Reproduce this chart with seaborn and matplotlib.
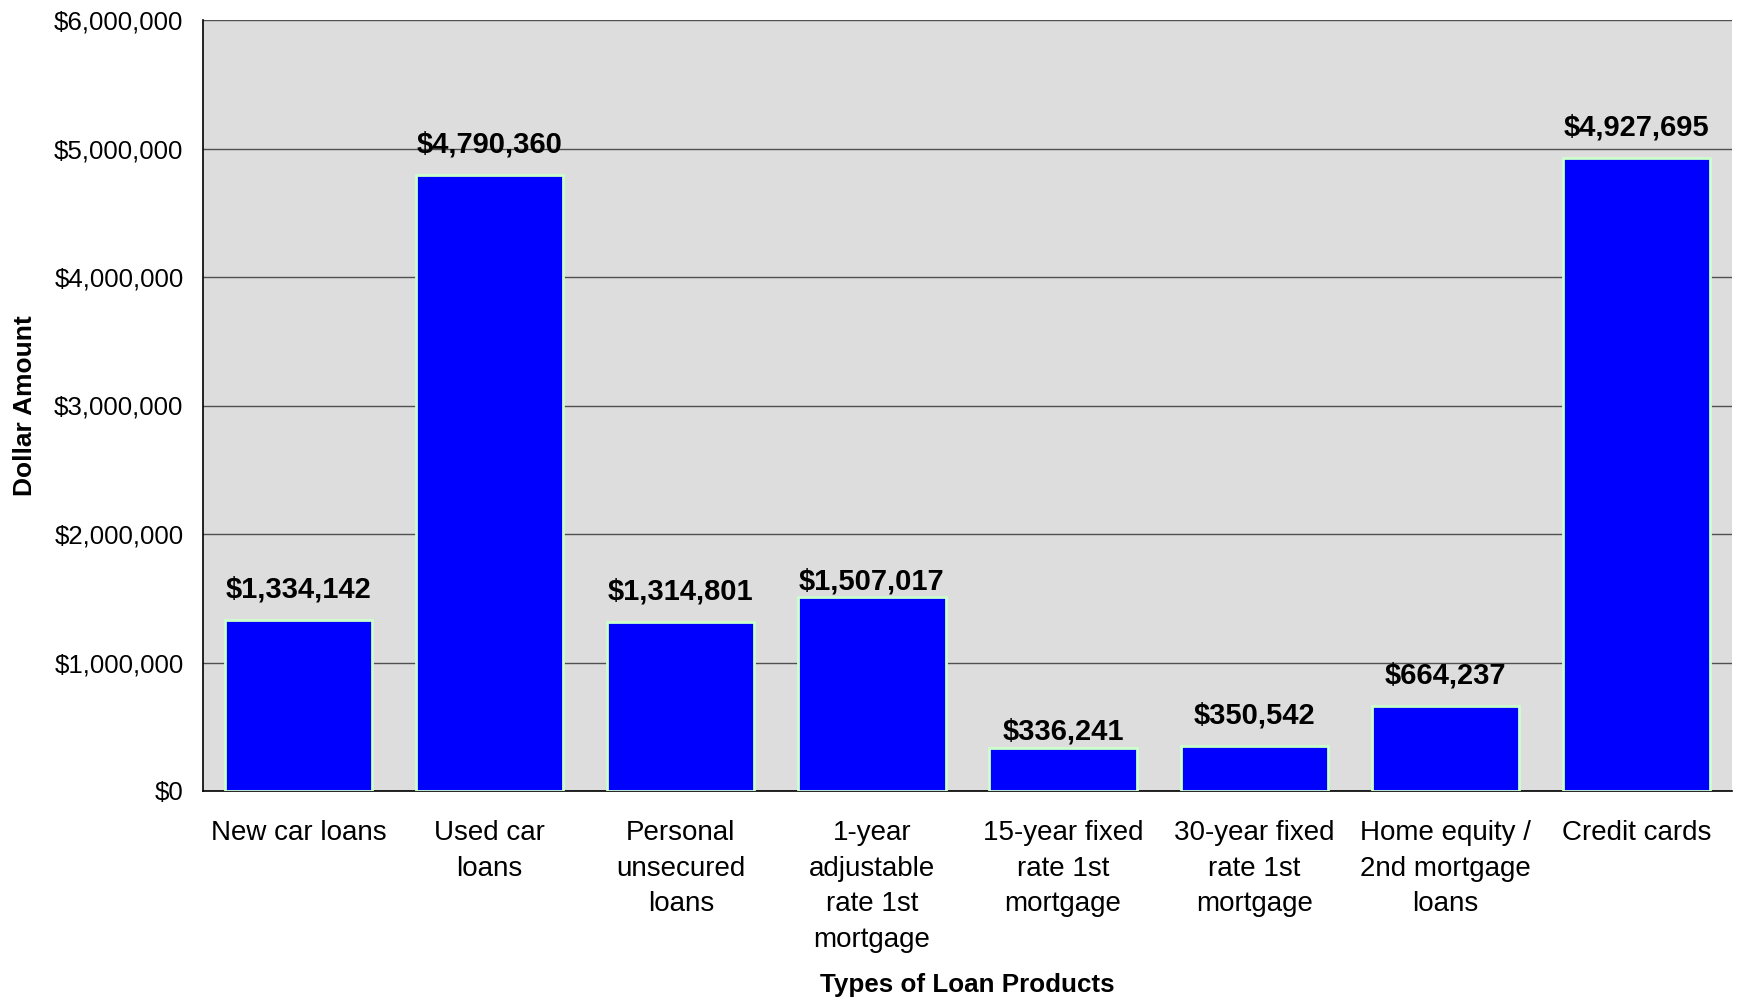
import matplotlib
matplotlib.use("Agg")
import matplotlib.pyplot as plt
import seaborn as sns
import pandas as pd
from matplotlib.ticker import FuncFormatter, MultipleLocator, FixedLocator

categories = ["New car loans", "Used car loans", "Personal unsecured loans",
              "1-year adjustable rate 1st mortgage", "15-year fixed rate 1st mortgage",
              "30-year fixed rate 1st mortgage", "Home equity / 2nd mortgage loans",
              "Credit cards"]
tick_labels = ["New car loans", "Used car\nloans", "Personal\nunsecured\nloans",
               "1-year\nadjustable\nrate 1st\nmortgage", "15-year fixed\nrate 1st\nmortgage",
               "30-year fixed\nrate 1st\nmortgage", "Home equity /\n2nd mortgage\nloans",
               "Credit cards"]
amounts = [1334142, 4790360, 1314801, 1507017, 336241, 350542, 664237, 4927695]

# label placement (points above bar top), layout only
label_offsets = [22, 22, 22, 11.5, 11.5, 22, 22, 22]

sns.set_style("white")
plt.rcParams['font.family'] = ['Liberation Sans', 'DejaVu Sans']
plt.rcParams['text.color'] = 'black'
plt.rcParams['axes.labelcolor'] = 'black'
plt.rcParams['xtick.color'] = 'black'
plt.rcParams['ytick.color'] = 'black'

df = pd.DataFrame({"cat": categories, "amt": amounts})

fig = plt.figure(figsize=(17.39, 10), dpi=100)
ax = fig.add_axes([203/1739, 209/1000, (1732-203)/1739, (791-20)/1000])
ax.set_facecolor('#dddddd')

sns.barplot(data=df, x="cat", y="amt", color="#0000ff", saturation=1, width=0.77,
            edgecolor="#ccffcc", linewidth=2, ax=ax, zorder=3)

ax.set_ylim(0, 6000000)
ax.set_xlim(-0.5, len(categories) - 0.5)
ax.yaxis.set_major_locator(MultipleLocator(1000000))
ax.yaxis.set_major_formatter(FuncFormatter(lambda v, p: "${:,.0f}".format(v)))
ax.grid(axis='y', color='#505050', linewidth=1, zorder=1)
ax.set_axisbelow(True)

for s in ['top', 'right']:
    ax.spines[s].set_visible(False)
for s in ['left', 'bottom']:
    ax.spines[s].set_color('black')
    ax.spines[s].set_linewidth(1.2)

ax.set_xticks(range(len(categories)))
ax.set_xticklabels(tick_labels, fontsize=20, linespacing=1.48, va='top')
ax.tick_params(axis='x', which='major', length=0, pad=21)
ax.xaxis.set_minor_locator(FixedLocator([i - 0.5 for i in range(len(categories) + 1)]))
ax.tick_params(axis='x', which='minor', length=7, width=1.2, color='black', direction='out')
ax.tick_params(axis='y', which='major', length=6, width=1.2, color='black', direction='out',
               labelsize=18.6, pad=8)

for i, v in enumerate(amounts):
    ax.annotate("${:,.0f}".format(v), xy=(i, v), xytext=(0, label_offsets[i]),
                textcoords='offset points', ha='center', va='center',
                fontsize=21, fontweight='bold', zorder=5)

ax.set_xlabel("Types of Loan Products", fontsize=18.7, fontweight='bold')
ax.set_ylabel("Dollar Amount", fontsize=19, fontweight='bold')
ax.xaxis.set_label_coords(0.5, -(973 - 791) / 771)
ax.yaxis.set_label_coords(-(203 - 37) / 1529, 0.5)

fig.savefig("out.png", dpi=100)
